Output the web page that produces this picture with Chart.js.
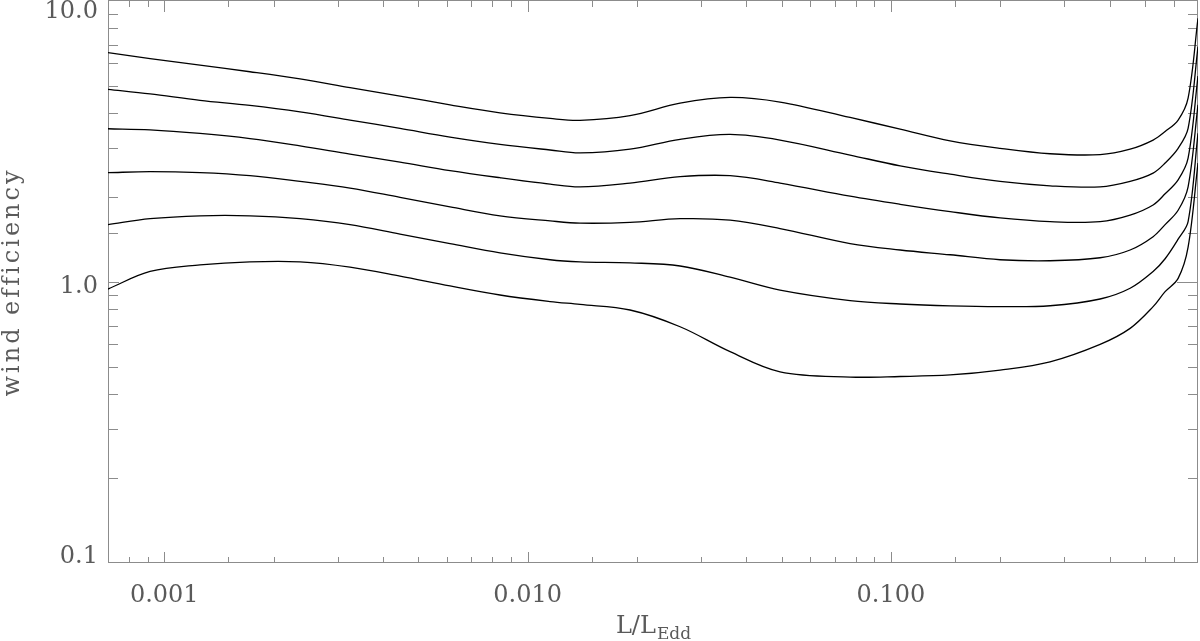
<!DOCTYPE html>
<html>
<head>
<meta charset="utf-8">
<script src="https://cdn.jsdelivr.net/npm/chart.js@4/dist/chart.umd.min.js"></script>
<style>
  html, body { margin: 0; padding: 0; background: #fff; }
  #wrap { width: 1200px; height: 641px; }
</style>
</head>
<body>
<div id="wrap"><canvas id="wind" width="1200" height="641"></canvas></div>
<script>
// L/L_Edd sample points
var lumRatio = [0.0007, 0.000914, 0.001254, 0.001721, 0.002364, 0.003245, 0.004455, 0.006116, 0.008393,
  0.01153, 0.01394, 0.01914, 0.02628, 0.03608, 0.04952, 0.07719, 0.1060, 0.1455, 0.1997, 0.2741,
  0.3764, 0.4553, 0.5267, 0.5683, 0.6172, 0.6574, 0.700];

// wind efficiency, one curve per array (top to bottom)
var eff1 = [6.55, 6.24, 5.91, 5.60, 5.28, 4.92, 4.59, 4.27, 4.00, 3.82, 3.76, 3.91, 4.33, 4.54, 4.37, 3.85, 3.50, 3.18, 2.99, 2.86, 2.84, 2.97, 3.20, 3.43, 3.77, 4.51, 8.68];
var eff2 = [4.85, 4.67, 4.43, 4.25, 4.03, 3.77, 3.52, 3.28, 3.09, 2.95, 2.88, 2.97, 3.22, 3.35, 3.20, 2.83, 2.59, 2.42, 2.28, 2.20, 2.18, 2.28, 2.44, 2.65, 2.99, 3.52, 6.88];
var eff3 = [3.51, 3.48, 3.38, 3.24, 3.05, 2.85, 2.67, 2.49, 2.35, 2.23, 2.18, 2.25, 2.37, 2.39, 2.25, 2.02, 1.89, 1.78, 1.69, 1.64, 1.64, 1.73, 1.88, 2.06, 2.31, 2.76, 5.41];
var eff4 = [2.45, 2.47, 2.45, 2.39, 2.28, 2.16, 2.00, 1.85, 1.72, 1.65, 1.62, 1.63, 1.68, 1.66, 1.55, 1.37, 1.30, 1.25, 1.20, 1.19, 1.22, 1.30, 1.45, 1.60, 1.80, 2.18, 4.27];
var eff5 = [1.60, 1.68, 1.72, 1.72, 1.68, 1.60, 1.48, 1.37, 1.27, 1.20, 1.18, 1.17, 1.14, 1.04, 0.936, 0.859, 0.835, 0.822, 0.817, 0.823, 0.870, 0.950, 1.09, 1.21, 1.42, 1.64, 3.38];
var eff6 = [0.944, 1.09, 1.15, 1.18, 1.18, 1.13, 1.05, 0.968, 0.899, 0.852, 0.832, 0.795, 0.693, 0.565, 0.479, 0.459, 0.461, 0.467, 0.486, 0.520, 0.600, 0.684, 0.817, 0.924, 1.03, 1.33, 2.65];

var xTickValues = [0.001, 0.01, 0.1];
var xTickLabels = ['0.001', '0.010', '0.100'];
var yTickValues = [0.1, 1, 10];
var yTickLabels = ['0.1', '1.0', '10.0'];

var frameColor = '#8c8c8c';
var textColor = '#5a5a5a';
var fontFamily = '"DejaVu Serif", "Liberation Serif", serif';

function isMajor(v, list){
  for(var i=0;i<list.length;i++){
    if(Math.abs(Math.log10(v) - Math.log10(list[i])) < 1e-6) return true;
  }
  return false;
}

var axisPlugin = {
  id: 'idlAxes',
  beforeDatasetsDraw: function(chart){
    var ctx = chart.ctx;
    var a = chart.chartArea;
    var sx = chart.scales.x, sy = chart.scales.y;
    ctx.save();
    ctx.strokeStyle = frameColor;
    ctx.lineWidth = 1;
    ctx.strokeRect(a.left + 0.5, a.top - 0.5, a.right - a.left - 1, a.bottom - a.top);

    ctx.beginPath();
    sx.ticks.forEach(function(t){
      var px = Math.round(sx.getPixelForValue(t.value)) + 0.5;
      if(px <= a.left + 2 || px >= a.right - 2) return;
      var len = isMajor(t.value, xTickValues) ? 11 : 6;
      ctx.moveTo(px, a.bottom); ctx.lineTo(px, a.bottom - len);
      ctx.moveTo(px, a.top); ctx.lineTo(px, a.top + len);
    });
    sy.ticks.forEach(function(t){
      var py = Math.round(sy.getPixelForValue(t.value)) + 0.5;
      if(py <= a.top + 2 || py >= a.bottom - 2) return;
      var major = isMajor(t.value, yTickValues);
      ctx.moveTo(a.left, py); ctx.lineTo(a.left + (major ? 11 : 10), py);
      ctx.moveTo(a.right, py); ctx.lineTo(a.right - (major ? 21 : 10), py);
    });
    ctx.stroke();
    ctx.restore();
  },
  afterDraw: function(chart){
    var ctx = chart.ctx;
    var a = chart.chartArea;
    var sx = chart.scales.x, sy = chart.scales.y;
    ctx.save();
    ctx.fillStyle = textColor;
    ctx.font = '24px ' + fontFamily;
    ctx.textBaseline = 'alphabetic';

    ctx.textAlign = 'center';
    for(var i=0;i<xTickValues.length;i++){
      ctx.fillText(xTickLabels[i], sx.getPixelForValue(xTickValues[i]), 602);
    }
    ctx.textAlign = 'right';
    for(var j=0;j<yTickValues.length;j++){
      var py = sy.getPixelForValue(yTickValues[j]) + 11;
      py = Math.min(Math.max(py, a.top + 17), a.bottom);
      ctx.fillText(yTickLabels[j], 98, py);
    }

    // x title: L/L_Edd
    ctx.textAlign = 'left';
    var main = 'L/L';
    var mw = ctx.measureText(main).width;
    ctx.font = '17px ' + fontFamily;
    var sw = ctx.measureText('Edd').width;
    var x0 = 653 - (mw + sw) / 2;
    ctx.font = '24px ' + fontFamily;
    ctx.fillText(main, x0, 633);
    ctx.font = '17px ' + fontFamily;
    ctx.fillText('Edd', x0 + mw + 1, 639);

    // y title
    ctx.font = '24px ' + fontFamily;
    if('letterSpacing' in ctx) ctx.letterSpacing = '3px';
    ctx.translate(19, 282);
    ctx.rotate(-Math.PI / 2);
    ctx.textAlign = 'center';
    ctx.fillText('wind efficiency', 0, 0);
    ctx.restore();
  }
};

function series(vals){
  return vals.map(function(v, i){ return {x: lumRatio[i], y: v}; });
}

var allSeries = [eff1, eff2, eff3, eff4, eff5, eff6];
var ctx = document.getElementById('wind');
var windChart = new Chart(ctx, {
  type: 'line',
  data: {
    datasets: allSeries.map(function(s){
      return {
        data: series(s),
        borderColor: '#000000',
        borderWidth: 1.3,
        pointRadius: 0,
        fill: false,
        tension: 0.35
      };
    })
  },
  options: {
    responsive: false,
    animation: false,
    devicePixelRatio: 1,
    layout: { padding: { top: 1, right: 2, left: 0, bottom: 0 } },
    plugins: { legend: { display: false }, tooltip: { enabled: false } },
    scales: {
      x: {
        type: 'logarithmic',
        min: 0.0007,
        max: 0.7,
        ticks: { display: false },
        grid: { display: false },
        border: { display: false },
        afterFit: function(scale){ scale.height = 78; }
      },
      y: {
        type: 'logarithmic',
        min: 0.1,
        max: 10,
        ticks: { display: false },
        grid: { display: false },
        border: { display: false },
        afterFit: function(scale){ scale.width = 108; }
      }
    }
  },
  plugins: [axisPlugin]
});
</script>
</body>
</html>
